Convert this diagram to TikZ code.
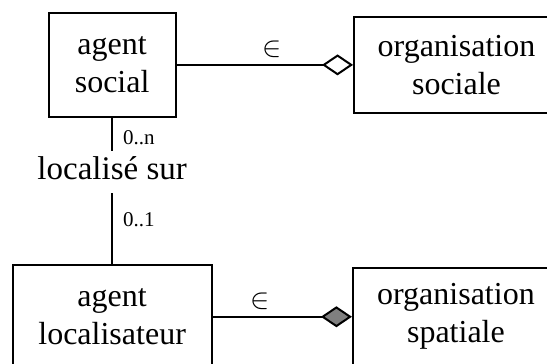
\documentclass[tikz,border=0pt]{standalone}
\usepackage{fontspec}
\setmainfont{Liberation Serif}
\usepackage{tikz}
\usetikzlibrary{arrows.meta}
\definecolor{aggfill}{HTML}{7F7F7F}

\begin{document}
\begin{tikzpicture}[every node/.style={font=\fontsize{16}{19}\selectfont}]
    \tikzstyle{cls}=[draw,line width=1pt,align=center,inner sep=0pt];
    \tikzstyle{card}=[font=\fontsize{10.5}{12}\selectfont,inner sep=0pt,right=5pt];
    \tikzstyle{memb}=[font=\fontsize{14}{16}\selectfont,inner sep=0pt,above=3pt];
    \tikzstyle{link}=[line width=1pt];
    \clip (0,0) rectangle (9.61,6.38);
    \node[cls,minimum width=2.23cm,minimum height=1.83cm] (as)  at (1.97,5.24) {agent\\social};
    \node[cls,minimum width=3.60cm,minimum height=1.70cm] (os)  at (8.02,5.24) {organisation\\sociale};
    \node[cls,minimum width=3.50cm,minimum height=1.83cm] (al)  at (1.97,0.815) {agent\\localisateur};
    \node[cls,minimum width=3.62cm,minimum height=1.70cm] (osp) at (8.01,0.815) {organisation\\spatiale};
    \node[font=\fontsize{16.5}{19}\selectfont,anchor=base,inner ysep=3pt,text depth=3.5pt] (lab) at (1.97,3.22) {localisé sur};

    \draw[link] (as.south) -- node[card,pos=0.6]{0..n} (lab.north);
    \draw[link] (lab.south) -- node[card,pos=0.38]{0..1} (al.north);

    \draw[link,-{Diamond[open,length=15.5pt,width=10.5pt]}] (as.east) -- node[memb,pos=0.54]{$\in$} (os.west);
    \draw[link,-{Diamond[fill=aggfill,length=15.5pt,width=10.5pt]}] (al.east) -- node[memb,pos=0.34]{$\in$} (osp.west);
  \end{tikzpicture}
\end{document}
